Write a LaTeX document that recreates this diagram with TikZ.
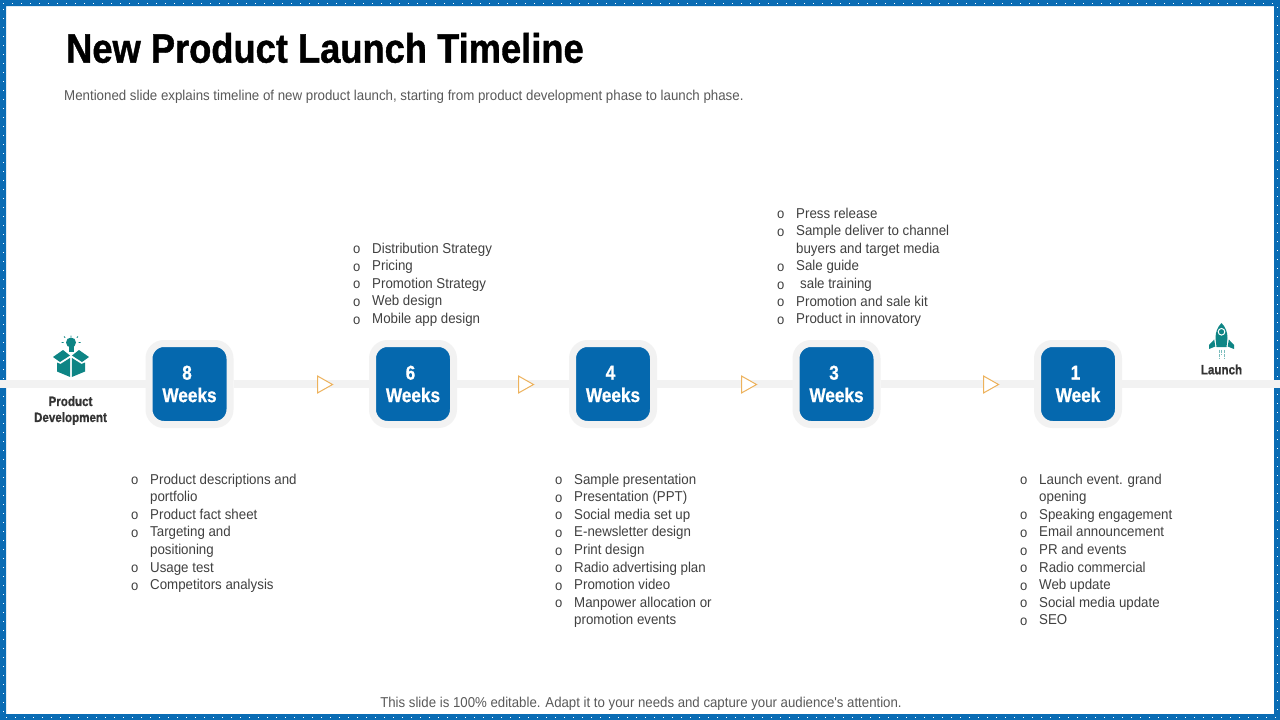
\documentclass[tikz,border=0pt]{standalone}
\usepackage{fontspec}
\setmainfont[FakeStretch=0.93]{Liberation Sans}
\newfontfamily\notefont[FakeStretch=0.925]{Liberation Sans}
\newfontfamily\narrowfont[FakeStretch=0.86,BoldFeatures={FakeBold=0.8}]{Liberation Sans}
\newfontfamily\titlefont[FakeStretch=0.885,BoldFeatures={FakeBold=1}]{Liberation Sans}
\usetikzlibrary{shapes.geometric}
\definecolor{frameblue}{HTML}{0A6CB4}
\definecolor{weekblue}{HTML}{0568AE}
\definecolor{bargray}{HTML}{F2F2F2}
\definecolor{icongreen}{HTML}{0E8585}
\definecolor{markorange}{HTML}{EDB25C}
\definecolor{listgray}{HTML}{404040}
\definecolor{notegray}{HTML}{595959}
\newcommand{\lit}{\makebox[19pt][l]{\raisebox{-0.6pt}{\fontsize{14}{14}\selectfont o}}}
\newcommand{\lin}{\hspace*{19pt}}
\newcommand{\num}[1]{\raisebox{-1pt}{#1}\hspace*{5pt}}
\begin{document}
\begin{tikzpicture}[x=1pt,y=-1pt,
	week_node/.style={rectangle,rounded corners=15pt,draw=bargray,line width=7pt,fill=weekblue,minimum size=81pt,inner sep=0pt,align=center,text=white,font=\narrowfont\bfseries\fontsize{20}{23}\selectfont},
	list_node/.style={anchor=north west,inner sep=0pt,align=left,text=listgray,font=\fontsize{14.3}{17.6}\selectfont},
	mark_node/.style={isosceles triangle,isosceles triangle stretches,draw=markorange,fill=white,line width=1pt,minimum width=17pt,minimum height=15pt,inner sep=0pt,anchor=west},
	label_node/.style={inner sep=0pt,align=center,text=black!80,font=\narrowfont\bfseries\fontsize{13.5}{16}\selectfont},
	bar_line/.style={draw=bargray,line width=8pt}]
		\useasboundingbox (0,0) rectangle (1280,720);
		\fill[white] (0,0) rectangle (1280,720);
		\fill[frameblue,even odd rule] (0,0) rectangle (1280,720) (6,6) rectangle (1274,714);
		\draw[white,line width=1pt,dash pattern=on 1pt off 8pt] (3,3) -- (1277,3) -- (1277,717) -- (3,717) -- cycle;

		\coordinate (bar_left) at (0,384);
		\coordinate (bar_right) at (1280,384);
		\node[week_node] (8) at (189.5,384) {\num{8}\\[0.5pt]Weeks};
		\node[week_node] (6) at (413,384) {\num{6}\\[0.5pt]Weeks};
		\node[week_node] (4) at (613,384) {\num{4}\\[0.5pt]Weeks};
		\node[week_node] (3) at (836.5,384) {\num{3}\\[0.5pt]Weeks};
		\node[week_node] (1) at (1078,384) {\num{1}\\[0.5pt]Week};

		\draw[bar_line] (bar_left) -- (8);
		\draw[bar_line] (8) -- (6);
		\draw[bar_line] (6) -- (4);
		\draw[bar_line] (4) -- (3);
		\draw[bar_line] (3) -- (1);
		\draw[bar_line] (1) -- (bar_right);

		\node[mark_node] (m1) at (317,384.5) {};
		\node[mark_node] (m2) at (518,384.5) {};
		\node[mark_node] (m3) at (741,384.5) {};
		\node[mark_node] (m4) at (983,384.5) {};

		\node[anchor=west,inner sep=0pt,font=\titlefont\bfseries\fontsize{41}{46}\selectfont,text=black] (title) at (66,48) {New Product Launch Timeline};
		\node[anchor=west,inner sep=0pt,font=\fontsize{14.3}{17}\selectfont,text=notegray] (subtitle) at (64,97) {Mentioned slide explains timeline of new product launch, starting from product development phase to launch phase.};
		\node[inner sep=0pt,font=\notefont\fontsize{14.3}{17}\selectfont,text=notegray] (note) at (641,704) {This slide is 100\% editable. Adapt it to your needs and capture your audience's attention.};

		\node[label_node] (dev) at (70.5,410.5) {Product\\Development};
		\node[label_node] (launch) at (1221.5,369.5) {Launch};

		\node[list_node] (list8) at (131,473.5) {\lit Product descriptions and\\\lin portfolio\\\lit Product fact sheet\\\lit Targeting and\\\lin positioning\\\lit Usage test\\\lit Competitors analysis};
		\node[list_node] (list6) at (353,242.5) {\lit Distribution Strategy\\\lit Pricing\\\lit Promotion Strategy\\\lit Web design\\\lit Mobile app design};
		\node[list_node] (list4) at (555,473.5) {\lit Sample presentation\\\lit Presentation (PPT)\\\lit Social media set up\\\lit E-newsletter design\\\lit Print design\\\lit Radio advertising plan\\\lit Promotion video\\\lit Manpower allocation or\\\lin promotion events};
		\node[list_node] (list3) at (777,207.5) {\lit Press release\\\lit Sample deliver to channel\\\lin buyers and target media\\\lit Sale guide\\\lit \hspace{4pt}sale training\\\lit Promotion and sale kit\\\lit Product in innovatory};
		\node[list_node] (list1) at (1020,473.5) {\lit Launch event. grand\\\lin opening\\\lit Speaking engagement\\\lit Email announcement\\\lit PR and events\\\lit Radio commercial\\\lit Web update\\\lit Social media update\\\lit SEO};

		\fill[icongreen] (53,357) -- (63,350) -- (70,355.5) -- (60,362) -- cycle;
		\fill[icongreen] (89,357) -- (79,350) -- (72,355.5) -- (82,362) -- cycle;
		\fill[icongreen] (57,362.5) -- (60.5,364) -- (70,358) -- (70.2,377) -- (57,371.5) -- cycle;
		\fill[icongreen] (85,362.5) -- (81.5,364) -- (72,358) -- (71.8,377) -- (85,371.5) -- cycle;
		\fill[icongreen] (71,342.5) circle (5);
		\fill[icongreen] (68.5,346) rectangle (73.5,352);
		\draw[icongreen,line width=0.8pt] (71,335.5) -- (71,337) (61.5,342.5) -- (63.5,342.5) (78.5,342.5) -- (80.5,342.5) (64,336.5) -- (65.2,337.7) (78,336.5) -- (76.8,337.7);

		\fill[icongreen] (1221.5,323) .. controls (1225.5,327) and (1227.5,332) .. (1227.5,338) -- (1226.5,347) -- (1216.5,347) -- (1215.5,338) .. controls (1215.5,332) and (1217.5,327) .. (1221.5,323) -- cycle;
		\fill[icongreen] (1214.2,339.5) -- (1209,345) -- (1209,349) -- (1215.3,346.5) -- cycle;
		\fill[icongreen] (1228.8,339.5) -- (1234,345) -- (1234,349) -- (1227.7,346.5) -- cycle;
		\draw[white,line width=1pt] (1221.5,331.8) circle (3.3);
		\draw[icongreen!55,line width=1pt,dash pattern=on 3pt off 1pt] (1219,349.5) -- (1219,358) (1224,349.5) -- (1224,358);
		\draw[icongreen!55,line width=1pt,dash pattern=on 3pt off 1pt] (1221.5,349.5) -- (1221.5,355);
		\end{tikzpicture}
\end{document}
